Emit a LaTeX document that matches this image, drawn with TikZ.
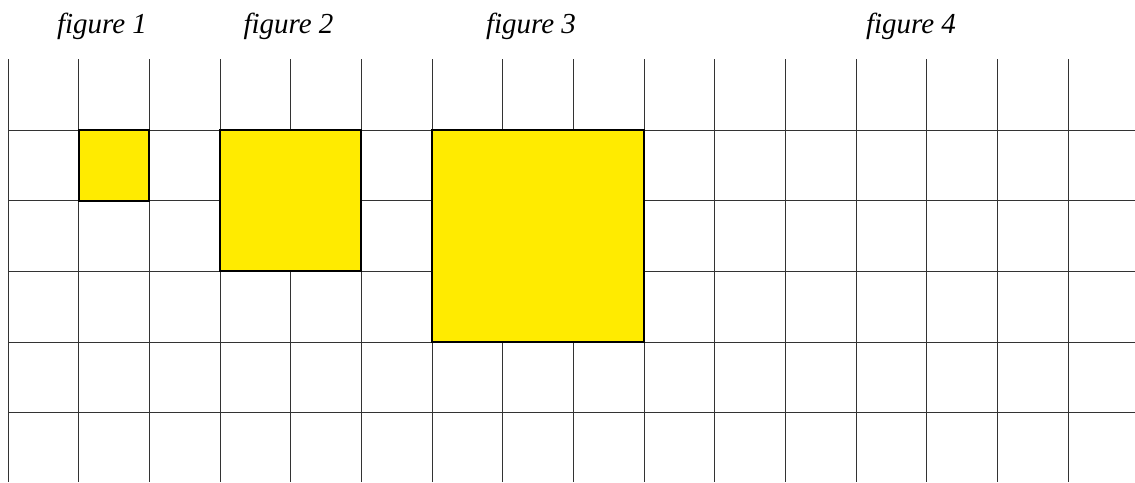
\documentclass[tikz,border=0pt]{standalone}
\usepackage{fontspec}
\setmainfont{Liberation Serif}
\definecolor{sqyellow}{HTML}{FFEB00}
\definecolor{gridcol}{HTML}{333333}
\begin{document}
\begin{tikzpicture}[x=1pt,y=-1pt,
  gridline/.style={draw=gridcol,line width=0.8pt},
  sq/.style={fill=sqyellow,draw=black,line width=1.8pt},
  figlabel/.style={font=\itshape\fontsize{29}{32}\selectfont,anchor=base}]
\useasboundingbox (0,0) rectangle (1135,482);
\def\c{70.667}
% vertical grid lines
\foreach \i in {0,...,15}{
  \draw[gridline] ({8+\i*\c},59.3) -- ({8+\i*\c},482);
}
% horizontal grid lines
\foreach \j in {1,...,5}{
  \draw[gridline] (8,{59.3+\j*\c}) -- (1135,{59.3+\j*\c});
}
% squares
\draw[sq] ({8+\c},{59.3+\c}) rectangle ({8+2*\c},{59.3+2*\c});
\draw[sq] ({8+3*\c},{59.3+\c}) rectangle ({8+5*\c},{59.3+3*\c});
\draw[sq] ({8+6*\c},{59.3+\c}) rectangle ({8+9*\c},{59.3+4*\c});
% labels
\node[figlabel] (f1) at (102,33) {figure 1};
\node[figlabel] (f2) at (288.5,33) {figure 2};
\node[figlabel] (f3) at (531,33) {figure 3};
\node[figlabel] (f4) at (911,33) {figure 4};
\end{tikzpicture}
\end{document}
